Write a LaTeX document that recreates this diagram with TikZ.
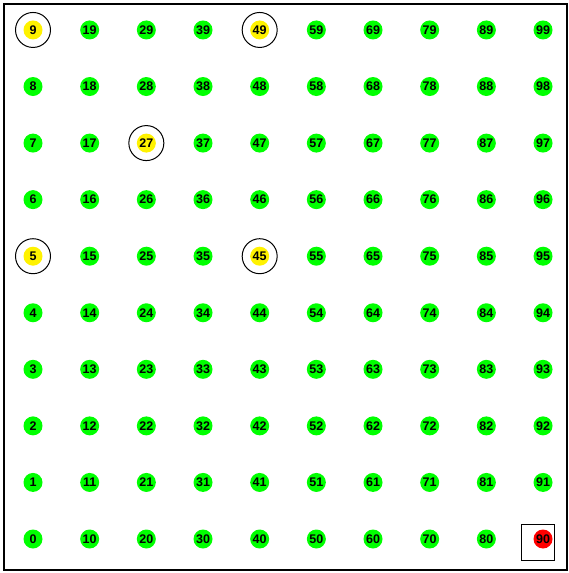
\documentclass[tikz,border=0pt]{standalone}
\usepackage{fontspec}
\setmainfont{Liberation Sans}
\begin{document}
\begin{tikzpicture}[x=1pt,y=-1pt,
  dotnode/.style={circle,inner sep=0pt,minimum size=19pt,font=\bfseries\fontsize{12.5}{12.5}\selectfont,text=black},
  green dot/.style={dotnode,fill=green},
  yellow dot/.style={dotnode,fill=yellow},
  red dot/.style={dotnode,fill=red},
  ring/.style={draw=black,line width=1pt,circle,minimum size=35pt,inner sep=0pt},
  boxmark/.style={draw=black,line width=1pt,minimum width=33pt,minimum height=36pt,inner sep=0pt}]
\useasboundingbox (0,0) rectangle (569,573);
\fill[white] (0,0) rectangle (569,573);
\draw[line width=1.3pt] (4,4) rectangle (567,570);
\foreach \i in {0,...,9}{
  \foreach \j in {0,...,9}{
    \pgfmathtruncatemacro{\n}{10*\i+\j}
    \pgfmathsetmacro{\px}{33+56.67*\i}
    \pgfmathsetmacro{\py}{539-56.56*\j}
    \def\st{green dot}
    \ifnum\n=9 \def\st{yellow dot}\fi
    \ifnum\n=49 \def\st{yellow dot}\fi
    \ifnum\n=27 \def\st{yellow dot}\fi
    \ifnum\n=5 \def\st{yellow dot}\fi
    \ifnum\n=45 \def\st{yellow dot}\fi
    \ifnum\n=90 \def\st{red dot}\fi
    \node[\st] (n\n) at (\px,\py) {\n};
  }
}
\foreach \k in {9,49,27,5,45}{
  \node[ring] (r\k) at (n\k) {};
}
\node[boxmark] (b90) at ([xshift=-5pt,yshift=-3pt]n90) {};
\end{tikzpicture}
\end{document}
